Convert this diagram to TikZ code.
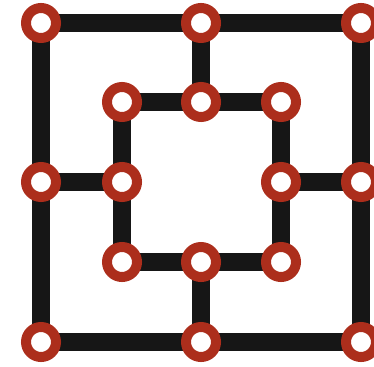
\documentclass[tikz,border=0pt]{standalone}
\usetikzlibrary{backgrounds}
\definecolor{ringred}{RGB}{172,46,28}
\definecolor{barblack}{RGB}{22,22,22}
\tikzset{
  spot/.style={circle, draw=ringred, line width=10pt, fill=white, minimum size=30pt, inner sep=0pt},
  bar/.style={draw=barblack, line width=18pt}
}
\begin{document}
\begin{tikzpicture}[x=1pt,y=-1pt]
\useasboundingbox (0,0) rectangle (374,366);
% outer
\node[spot] (otl) at (41,23) {};
\node[spot] (otm) at (201,23) {};
\node[spot] (otr) at (361,23) {};
\node[spot] (oml) at (41,182) {};
\node[spot] (omr) at (361,182) {};
\node[spot] (obl) at (41,342) {};
\node[spot] (obm) at (201,342) {};
\node[spot] (obr) at (361,342) {};
% inner
\node[spot] (itl) at (122,102) {};
\node[spot] (itm) at (201,102) {};
\node[spot] (itr) at (281,102) {};
\node[spot] (iml) at (122,182) {};
\node[spot] (imr) at (281,182) {};
\node[spot] (ibl) at (122,262) {};
\node[spot] (ibm) at (201,262) {};
\node[spot] (ibr) at (281,262) {};
\begin{scope}[on background layer]
\draw[bar] (otl.center) -- (otm.center) -- (otr.center) -- (omr.center) -- (obr.center) -- (obm.center) -- (obl.center) -- (oml.center) -- cycle;
\draw[bar] (itl.center) -- (itm.center) -- (itr.center) -- (imr.center) -- (ibr.center) -- (ibm.center) -- (ibl.center) -- (iml.center) -- cycle;
\draw[bar] (otm.center) -- (itm.center);
\draw[bar] (oml.center) -- (iml.center);
\draw[bar] (omr.center) -- (imr.center);
\draw[bar] (obm.center) -- (ibm.center);
\end{scope}
\end{tikzpicture}
\end{document}
